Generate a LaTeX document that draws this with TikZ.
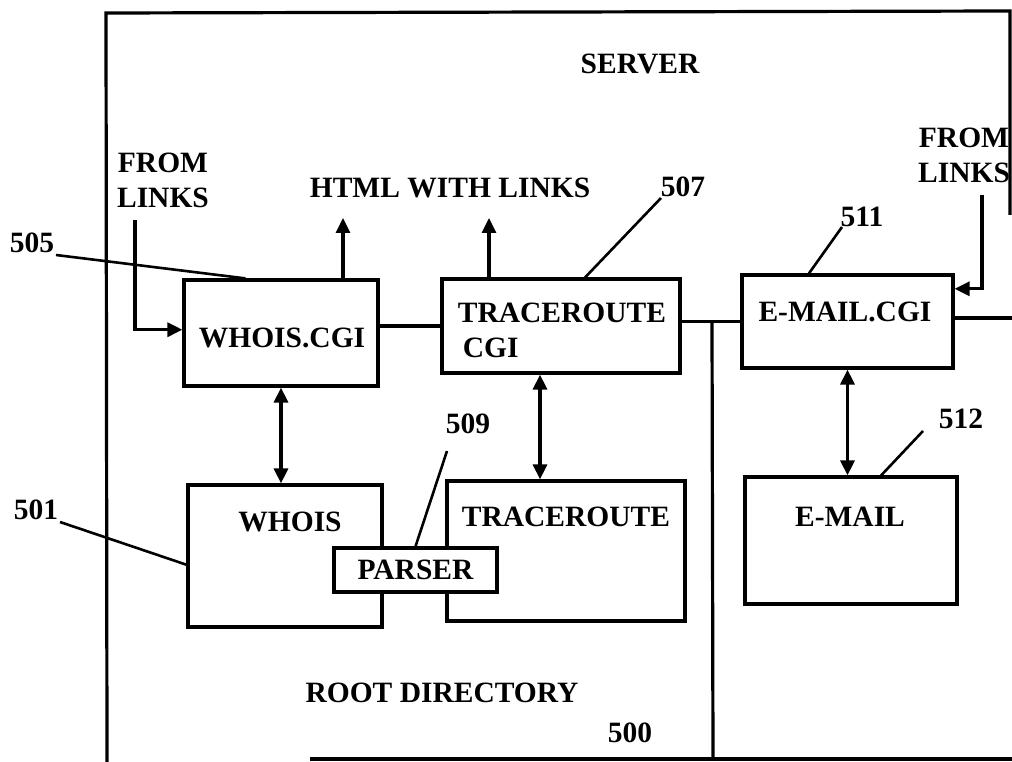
\documentclass[tikz,border=0pt]{standalone}
\usepackage{fontspec}
\setmainfont{Liberation Serif}
\usetikzlibrary{arrows.meta,calc}
\tikzset{
  box/.style={draw, line width=3.2pt, inner sep=0pt},
  txt/.style={font=\fontsize{29.5}{35}\selectfont\bfseries, inner sep=0pt, align=center},
  ln/.style={line width=3.2pt},
  lead/.style={line width=2.6pt},
  arr/.style={line width=3.2pt, -{Triangle[length=15pt,width=14pt]}},
  darr/.style={line width=3.2pt, {Triangle[length=15pt,width=14pt]}-{Triangle[length=15pt,width=14pt]}},
}
\begin{document}
\begin{tikzpicture}[x=1pt,y=-1pt]
\useasboundingbox (0,0) rectangle (1012,762);
% frame
\coordinate (tl) at (106,13);
\coordinate (tr) at (1010,11);
\coordinate (tre) at (1010,215);
\coordinate (bl) at (107,762);
\coordinate (bb1) at (310,759);
\coordinate (bb2) at (1012,759);
\draw[ln] (bl) -- (tl) -- (tr) -- (tre);
\draw[ln] (bb1) -- (bb2);
% boxes
\node[box, minimum width=194pt, minimum height=106pt] (whoiscgi) at (281,333) {};
\node[box, minimum width=238pt, minimum height=94pt] (tracecgi) at (561,326) {};
\node[box, minimum width=211pt, minimum height=93pt] (emailcgi) at (847.5,321.5) {};
\node[box, minimum width=194pt, minimum height=142pt] (whois) at (285,556) {};
\node[box, minimum width=238pt, minimum height=140pt] (trace) at (566,551) {};
\node[box, minimum width=212pt, minimum height=127pt] (email) at (851,540.5) {};
\node[box, fill=white, minimum width=163pt, minimum height=44pt, txt] (parser) at (415.5,570) {PARSER};
% box texts
\node[txt] (t-whoiscgi) at (282,338) {WHOIS.CGI};
\node[txt, align=left] (t-tracecgi) at (562,330) {TRACEROUTE\\\,CGI};
\node[txt] (t-emailcgi) at (845,312) {E-MAIL.CGI};
\node[txt] (t-whois) at (290,522) {WHOIS};
\node[txt] (t-trace) at (566,517) {TRACEROUTE};
\node[txt] (t-email) at (850,517) {E-MAIL};
% other texts
\node[txt] (server) at (640,64) {SERVER};
\node[txt] (html) at (450,188) {HTML WITH LINKS};
\node[txt] (fromL) at (163,180) {FROM\\LINKS};
\node[txt] (fromR) at (964,155) {FROM\\LINKS};
\node[txt] (root) at (442,693) {ROOT DIRECTORY};
\node[txt] (n500) at (630,733) {500};
\node[txt] (n505) at (32,243) {505};
\node[txt] (n501) at (36,510) {501};
\node[txt] (n507) at (683,187) {507};
\node[txt] (n509) at (468,424) {509};
\node[txt] (n511) at (862,217) {511};
\node[txt] (n512) at (961,419) {512};
% connectors between CGIs
\draw[ln] (whoiscgi.east |- tracecgi.west) -- (tracecgi.west);
\draw[ln] (tracecgi.east |- emailcgi.west) -- (emailcgi.west);
\coordinate (divtop) at (712,322);
\coordinate (divbot) at (713,760);
\draw[ln] (divtop) -- (divbot);
\coordinate (rightout) at (1012,318);
\draw[ln] (emailcgi.east |- rightout) -- (rightout);
% HTML arrows
\coordinate (h1) at (343,218);
\coordinate (h2) at (489,218);
\draw[arr] (whoiscgi.north -| h1) -- (h1);
\draw[arr] (tracecgi.north -| h2) -- (h2);
% FROM LINKS arrows
\coordinate (fl1) at (135,220);
\draw[arr] (fl1) |- ($(whoiscgi.north west)!0.47!(whoiscgi.south west)$);
\coordinate (fr1) at (982,195);
\draw[arr] (fr1) |- ($(emailcgi.north east)!0.16!(emailcgi.south east)$);
% double arrows
\draw[darr] (whoiscgi.south) -- (whoiscgi.south |- whois.north);
\draw[darr] ([xshift=-21pt]tracecgi.south) -- ([xshift=-21pt]tracecgi.south |- trace.north);
\draw[darr] (emailcgi.south) -- (emailcgi.south |- email.north);
% leader lines
\draw[lead] ([shift={(24,12)}]n505.center) -- ($(whoiscgi.north west)!0.32!(whoiscgi.north east)$);
\draw[lead] ([shift={(24,12)}]n501.center) -- ($(whois.north west)!0.56!(whois.south west)$);
\draw[lead] ([shift={(-22,11)}]n507.center) -- ($(tracecgi.north west)!0.6!(tracecgi.north east)$);
\draw[lead] ([shift={(-20,10)}]n511.center) -- ($(emailcgi.north west)!0.32!(emailcgi.north east)$);
\draw[lead] ([shift={(-38,12)}]n512.center) -- ($(email.north west)!0.64!(email.north east)$);
\draw[lead] ([shift={(-21,27)}]n509.center) -- (parser.north);
\end{tikzpicture}
\end{document}
